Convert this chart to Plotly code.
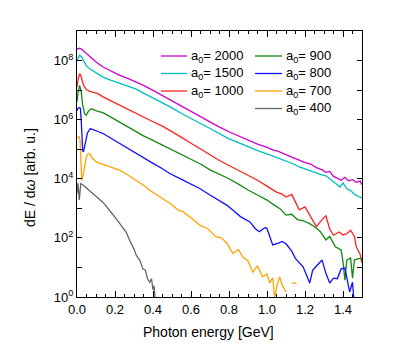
import plotly.graph_objects as go

# ---- data (energies in GeV, spectra as log10 of dE/dω) ----
e_2000 = [0.0, 0.005, 0.014, 0.025, 0.04, 0.067, 0.10, 0.137, 0.18, 0.225, 0.27, 0.312, 0.35, 0.40, 0.45, 0.50,
          0.55, 0.60, 0.65, 0.70, 0.75, 0.80, 0.85, 0.90, 0.95, 1.00, 1.03, 1.06, 1.10, 1.13, 1.17, 1.20, 1.23,
          1.26, 1.29, 1.31, 1.33, 1.35, 1.37, 1.39, 1.41, 1.43, 1.45, 1.47, 1.49, 1.50]
v_2000 = [8.38, 8.40, 8.42, 8.38, 8.29, 8.12, 7.95, 7.78, 7.63, 7.50, 7.39, 7.28, 7.16, 6.99, 6.81, 6.63,
          6.45, 6.27, 6.10, 5.93, 5.75, 5.59, 5.45, 5.32, 5.17, 5.06, 4.98, 4.93, 4.80, 4.73, 4.63, 4.55, 4.50,
          4.38, 4.30, 4.22, 4.25, 4.08, 4.02, 3.95, 4.05, 3.93, 3.97, 3.88, 3.92, 3.80]

e_1500 = [0.0, 0.006, 0.014, 0.022, 0.035, 0.05, 0.067, 0.09, 0.137, 0.18, 0.225, 0.27, 0.312, 0.35, 0.40, 0.45,
          0.50, 0.55, 0.60, 0.65, 0.70, 0.75, 0.80, 0.85, 0.90, 0.95, 1.00, 1.05, 1.10, 1.14, 1.17, 1.21, 1.25,
          1.28, 1.31, 1.33, 1.35, 1.37, 1.385, 1.40, 1.42, 1.44, 1.46, 1.48, 1.50]
v_1500 = [8.00, 8.10, 8.18, 8.14, 7.98, 7.82, 7.72, 7.62, 7.44, 7.33, 7.22, 7.13, 7.03, 6.90, 6.74, 6.57,
          6.40, 6.21, 6.03, 5.87, 5.70, 5.52, 5.35, 5.22, 5.08, 4.95, 4.84, 4.72, 4.58, 4.50, 4.40, 4.30, 4.22,
          4.15, 4.10, 4.00, 3.92, 3.80, 3.72, 3.86, 3.66, 3.60, 3.48, 3.40, 3.35]

e_1000 = [0.0, 0.005, 0.014, 0.022, 0.035, 0.05, 0.067, 0.09, 0.11, 0.137, 0.18, 0.225, 0.27, 0.312, 0.35, 0.40,
          0.45, 0.50, 0.55, 0.60, 0.65, 0.70, 0.75, 0.80, 0.85, 0.90, 0.95, 1.00, 1.05, 1.08, 1.10, 1.13, 1.15,
          1.17, 1.20, 1.23, 1.26, 1.29, 1.31, 1.33, 1.35, 1.38, 1.40, 1.42, 1.44, 1.46, 1.47, 1.49, 1.50]
v_1000 = [7.10, 7.35, 7.56, 7.45, 7.15, 7.02, 6.96, 6.92, 6.88, 6.77, 6.63, 6.49, 6.35, 6.21, 6.09, 5.93,
          5.78, 5.60, 5.40, 5.20, 5.00, 4.82, 4.62, 4.45, 4.28, 4.12, 3.95, 3.75, 3.55, 3.48, 3.38, 3.47, 3.20,
          2.95, 3.05, 2.70, 2.38, 2.62, 2.75, 2.30, 2.09, 2.20, 2.10, 2.14, 2.26, 2.05, 1.70, 1.45, 1.15]

e_900 = [0.0, 0.005, 0.014, 0.022, 0.03, 0.04, 0.048, 0.06, 0.075, 0.09, 0.11, 0.137, 0.18, 0.225, 0.27, 0.312,
         0.35, 0.40, 0.45, 0.50, 0.55, 0.60, 0.65, 0.70, 0.75, 0.80, 0.85, 0.90, 0.95, 1.00, 1.04, 1.07, 1.10,
         1.13, 1.16, 1.19, 1.22, 1.25, 1.28, 1.31, 1.33, 1.36, 1.39, 1.40, 1.41, 1.42, 1.44, 1.45, 1.46, 1.48, 1.50]
v_900 = [6.60, 6.90, 7.16, 6.95, 6.50, 6.20, 6.15, 6.28, 6.37, 6.33, 6.28, 6.24, 6.08, 5.92, 5.75, 5.58,
         5.45, 5.30, 5.14, 4.98, 4.82, 4.66, 4.50, 4.30, 4.16, 4.00, 3.82, 3.62, 3.45, 3.28, 3.10, 2.98, 2.77,
         2.80, 2.62, 2.58, 2.50, 2.38, 2.22, 1.93, 2.05, 1.70, 1.59, 1.20, 0.57, 1.25, 1.32, 0.64, 1.25, 1.30, 1.30]

e_800 = [0.0, 0.004, 0.012, 0.018, 0.022, 0.026, 0.03, 0.034, 0.042, 0.055, 0.07, 0.09, 0.11, 0.137, 0.18, 0.225,
         0.27, 0.312, 0.35, 0.40, 0.45, 0.488, 0.55, 0.60, 0.646, 0.70, 0.75, 0.79, 0.82, 0.86, 0.91, 0.94, 0.96,
         0.99, 1.00, 1.03, 1.06, 1.08, 1.10, 1.13, 1.15, 1.17, 1.19, 1.225, 1.24, 1.26, 1.29, 1.31, 1.33, 1.35,
         1.37, 1.39, 1.41, 1.435, 1.45, 1.46]
v_800 = [6.30, 6.37, 6.41, 6.38, 6.00, 5.40, 4.95, 4.91, 5.20, 5.55, 5.70, 5.66, 5.60, 5.53, 5.36, 5.19,
         5.02, 4.85, 4.70, 4.52, 4.34, 4.18, 3.98, 3.82, 3.67, 3.45, 3.25, 3.10, 2.94, 2.72, 2.54, 2.30, 2.21,
         2.35, 2.32, 1.76, 1.82, 1.88, 1.80, 1.55, 1.30, 1.15, 1.02, 0.47, 0.90, 1.05, 1.25, 0.80, 0.47, 0.64,
         0.62, 0.95, 0.98, 0.17, 0.50, -0.30]

e_700 = [0.0, 0.005, 0.012, 0.016, 0.02, 0.025, 0.03, 0.04, 0.05, 0.06, 0.07, 0.08, 0.10, 0.12, 0.137, 0.18,
         0.225, 0.27, 0.313, 0.35, 0.383, 0.435, 0.47, 0.50, 0.53, 0.56, 0.60, 0.646, 0.69, 0.73, 0.76, 0.79, 0.82,
         0.85, 0.873, 0.90, 0.925, 0.95, 0.977, 1.00, 1.014, 1.03, 1.04, 1.055, 1.067, 1.08, 1.10, 1.115, 1.13, 1.155]
v_700 = [5.40, 5.42, 5.42, 5.30, 4.50, 3.95, 4.05, 4.45, 4.75, 4.85, 4.83, 4.70, 4.58, 4.52, 4.48, 4.40,
         4.29, 4.12, 3.95, 3.78, 3.61, 3.39, 3.22, 3.12, 2.95, 2.88, 2.68, 2.43, 2.30, 2.04, 2.00, 1.81, 1.48,
         1.60, 1.35, 1.22, 0.84, 1.05, 0.68, 0.78, 0.47, 0.65, 0.00, 0.45, 0.68, 0.40, 0.17, None, 0.47, 0.47]

e_400 = [0.0, 0.005, 0.012, 0.02, 0.03, 0.05, 0.08, 0.11, 0.137, 0.16, 0.18, 0.20, 0.225, 0.245, 0.26, 0.275,
         0.29, 0.30, 0.313, 0.33, 0.347, 0.36, 0.372, 0.383, 0.392, 0.40, 0.405, 0.41, 0.415]
v_400 = [3.50, 3.85, 3.28, 3.84, 3.80, 3.68, 3.52, 3.35, 3.20, 3.00, 2.86, 2.70, 2.50, 2.30, 2.18, 1.95,
         1.78, 1.62, 1.40, 1.25, 0.95, 0.90, 0.60, 0.50, 0.62, 0.25, 0.38, 0.05, -0.3]

labels = ["2000", "1500", "1000", "900", "800", "700", "400"]
colors = ["#cc00cc", "#00bdbd", "#ff2020", "#118811", "#1010ff", "#ffa500", "#666666"]
energies = [e_2000, e_1500, e_1000, e_900, e_800, e_700, e_400]
spectra = [v_2000, v_1500, v_1000, v_900, v_800, v_700, v_400]

xtick_vals = [0.0, 0.2, 0.4, 0.6, 0.8, 1.0, 1.2, 1.4]
ytick_exp = list(range(0, 10))
x_title = "Photon energy [GeV]"
y_title = "dE / d<i>ω</i> [arb. u.]"

FONT = "Liberation Sans, Arial, Helvetica, sans-serif"

# page offset (default body margin of the html page)
OFF = 8
W, H = 415, 356
# plot-area geometry in screenshot pixels, shifted by the page offset
L, R, T, B = 77 - OFF, 362 - OFF, 31 - OFF, 297 - OFF

# legend layout (screenshot pixel positions of key lines, two columns)
leg_col_x = [(161 - OFF, 187 - OFF), (255 - OFF, 282 - OFF)]
leg_row_y = [56 - OFF, 73.5 - OFF, 91 - OFF, 108.5 - OFF]
leg_slots = [(0, 0), (0, 1), (0, 2), (1, 0), (1, 1), (1, 2), (1, 3)]
xtitle_pos = (208 - OFF, 332 - OFF)
ytitle_pos = (30 - OFF, 177 - OFF)


def px_to_paper(px, py):
    return (px - L) / (R - L), (B - py) / (B - T)


fig = go.Figure()
for lab, col, ex, vs in zip(labels, colors, energies, spectra):
    ys = [None if v is None else 10 ** v for v in vs]
    fig.add_trace(go.Scatter(
        x=ex, y=ys, mode="lines", name=f"a<sub>0</sub>= {lab}",
        line=dict(color=col, width=1.3), connectgaps=False, showlegend=False,
    ))

shapes, annotations = [], []
for lab, col, (c, r) in zip(labels, colors, leg_slots):
    x0p, y0p = px_to_paper(leg_col_x[c][0], leg_row_y[r])
    x1p, _ = px_to_paper(leg_col_x[c][1], leg_row_y[r])
    shapes.append(dict(type="line", xref="paper", yref="paper", x0=x0p, x1=x1p, y0=y0p, y1=y0p,
                       line=dict(color=col, width=1.3)))
    tx, _ = px_to_paper(leg_col_x[c][1] + 2, 0)
    annotations.append(dict(xref="paper", yref="paper", x=tx, y=y0p, xanchor="left", yanchor="middle",
                            text=f"a<sub>0</sub>= {lab}", showarrow=False,
                            font=dict(family=FONT, size=13, color="black")))

# axis titles
xtx, xty = px_to_paper(*xtitle_pos)
annotations.append(dict(xref="paper", yref="paper", x=xtx, y=xty, xanchor="center", yanchor="middle",
                        text=x_title, showarrow=False, font=dict(family=FONT, size=14, color="black")))
ytx, yty = px_to_paper(*ytitle_pos)
annotations.append(dict(xref="paper", yref="paper", x=ytx, y=yty, xanchor="center", yanchor="middle",
                        text=y_title, textangle=-90, showarrow=False,
                        font=dict(family=FONT, size=14, color="black")))

fig.update_layout(
    width=W, height=H,
    margin=dict(l=L, r=W - R, t=T, b=H - B, autoexpand=False),
    paper_bgcolor="white", plot_bgcolor="white",
    font=dict(family=FONT, size=13, color="black"),
    showlegend=False,
    shapes=shapes, annotations=annotations,
)

fig.update_xaxes(
    range=[0, 1.5], showline=True, linecolor="black", linewidth=1, mirror="ticks",
    ticks="inside", ticklen=6, tickcolor="black", tickvals=xtick_vals,
    ticktext=[f"{v:.1f}" for v in xtick_vals],
    minor=dict(ticks="inside", ticklen=3, dtick=0.05, tickcolor="black", showgrid=False),
    showgrid=False, zeroline=False, automargin=False,
)
fig.update_yaxes(
    type="log", range=[0, 9], showline=True, linecolor="black", linewidth=1, mirror="ticks",
    ticks="inside", ticklen=5, tickcolor="black",
    tickvals=[10 ** k for k in ytick_exp],
    ticktext=[f"10<sup>{k}</sup>" if k % 2 == 0 else "" for k in ytick_exp],
    showgrid=False, zeroline=False, automargin=False,
)

fig.write_html("out.html")
